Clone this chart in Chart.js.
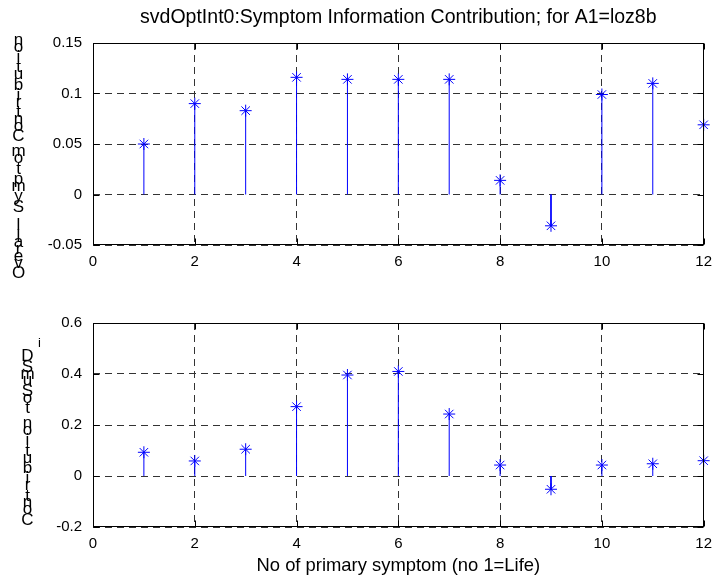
<!DOCTYPE html>
<html>
<head>
<meta charset="utf-8">
<title>svdOptInt0</title>
<script src="https://cdn.jsdelivr.net/npm/chart.js@4/dist/chart.umd.min.js"></script>
<style>
  html, body { margin: 0; padding: 0; background: #fff; }
  #wrap { position: relative; width: 720px; height: 579px; }
  #wrap canvas { position: absolute; left: 0; }
  #top-chart { top: 0; }
  #bottom-chart { top: 290px; }
</style>
</head>
<body>
<div id="wrap">
  <canvas id="top-chart" width="720" height="290"></canvas>
  <canvas id="bottom-chart" width="720" height="289"></canvas>
</div>
<script>
// values
const symptoms = [1, 2, 3, 4, 5, 6, 7, 8, 9, 10, 11, 12];
const overallContribution = [0.050, 0.090, 0.083, 0.116, 0.114, 0.114, 0.114, 0.014, -0.031, 0.099, 0.110, 0.069];
const sumSdContribution = [0.093, 0.059, 0.105, 0.272, 0.396, 0.410, 0.243, 0.043, -0.052, 0.043, 0.048, 0.060];

const xTicks = [0, 2, 4, 6, 8, 10, 12];
const yTicksTop = [-0.05, 0, 0.05, 0.1, 0.15];
const yTicksBottom = [-0.2, 0, 0.2, 0.4, 0.6];

const titleText = 'svdOptInt0:Symptom Information Contribution; for A1=loz8b';
const xLabelText = 'No of primary symptom (no 1=Life)';
const yLabelTop = 'Overall Symptom Contribution';
const yLabelBottom = 'Contribution toSumSD';

const FONT = '"Liberation Sans", Arial, Helvetica, sans-serif';
const BLUE = '#0000ff';

Chart.defaults.font.family = FONT;
Chart.defaults.color = '#000';

// ylabel is drawn one character per line, read bottom-up
const SHORT = 'acemnorsuvwxz';
function charStep(ch) {
  if (ch === ' ') return 8.3;
  return SHORT.includes(ch) ? 6.8 : 10.4;
}

const stackedLabel = {
  id: 'stackedLabel',
  afterDraw(chart, args, opts) {
    if (!opts.text) return;
    const ctx = chart.ctx;
    ctx.save();
    ctx.fillStyle = '#000';
    ctx.textAlign = 'center';
    ctx.textBaseline = 'alphabetic';
    if (opts.sup) {
      ctx.font = '13px ' + FONT;
      ctx.fillText(opts.sup, opts.x + 12, opts.top - 4);
    }
    ctx.font = '17px ' + FONT;
    let y = opts.top;
    opts.text.split('').reverse().forEach(ch => {
      y += charStep(ch);
      if (ch !== ' ') ctx.fillText(ch, opts.x, y);
    });
    ctx.restore();
  }
};

// title centred over the axes, not the whole canvas
const axesTitle = {
  id: 'axesTitle',
  afterDraw(chart, args, opts) {
    if (!opts.text) return;
    const { ctx, chartArea: a } = chart;
    ctx.save();
    ctx.fillStyle = '#000';
    ctx.font = '19.5px ' + FONT;
    ctx.textAlign = 'center';
    ctx.textBaseline = 'middle';
    ctx.fillText(opts.text, (a.left + a.right) / 2, opts.y);
    ctx.restore();
  }
};

// MATLAB style box with inward ticks
const axesBox = {
  id: 'axesBox',
  afterDraw(chart) {
    const { ctx, chartArea: a, scales: { x, y } } = chart;
    const L = Math.round(a.left) + 0.5, R = Math.round(a.right) - 0.5;
    const T = Math.round(a.top) + 0.5, B = Math.round(a.bottom) - 0.5;
    ctx.save();
    ctx.strokeStyle = '#000';
    ctx.lineWidth = 1;
    ctx.setLineDash([]);
    ctx.strokeRect(L, T, R - L, B - T);
    ctx.beginPath();
    x.ticks.forEach(t => {
      const px = Math.round(x.getPixelForValue(t.value)) + 0.5;
      ctx.moveTo(px, B); ctx.lineTo(px, B - 6);
      ctx.moveTo(px, T); ctx.lineTo(px, T + 6);
    });
    y.ticks.forEach(t => {
      const py = Math.round(y.getPixelForValue(t.value)) + 0.5;
      ctx.moveTo(L, py); ctx.lineTo(L + 6, py);
      ctx.moveTo(R, py); ctx.lineTo(R - 6, py);
    });
    ctx.stroke();
    ctx.restore();
  }
};

function stemPoints(values) {
  return symptoms.flatMap((s, i) => [{ x: s, y: 0 }, { x: s, y: values[i] }, { x: s, y: null }]);
}

function buildChart(canvasId, values, yTicks, cfg) {
  const ctx = document.getElementById(canvasId).getContext('2d');
  return new Chart(ctx, {
    type: 'scatter',
    data: {
      datasets: [
        {
          data: symptoms.map((s, i) => ({ x: s, y: values[i] })),
          pointStyle: 'star',
          pointRadius: 6,
          pointBorderWidth: 1,
          borderColor: BLUE,
          backgroundColor: BLUE,
          showLine: false,
          clip: false
        },
        {
          data: stemPoints(values),
          showLine: true,
          spanGaps: false,
          pointRadius: 0,
          borderColor: BLUE,
          borderWidth: 1
        }
      ]
    },
    options: {
      responsive: false,
      animation: false,
      events: [],
      devicePixelRatio: 1,
      layout: { padding: { left: 0, right: 9, top: cfg.padTop, bottom: 0 } },
      plugins: {
        legend: { display: false },
        tooltip: { enabled: false },
        title: { display: false },
        axesTitle: { text: cfg.title, y: 18 },
        stackedLabel: cfg.yLabel
      },
      scales: {
        x: {
          type: 'linear',
          min: 0,
          max: 12,
          afterBuildTicks: s => { s.ticks = xTicks.map(v => ({ value: v })); },
          afterFit: s => { s.height = cfg.xHeight; },
          ticks: { padding: 8, font: { size: 15 }, color: '#000', callback: v => String(v) },
          grid: { color: '#333', lineWidth: 1, drawTicks: false },
          border: { display: false, dash: [7, 5] },
          title: cfg.xTitle ? {
            display: true,
            text: cfg.xTitle,
            color: '#000',
            font: { size: 18.4 },
            padding: { top: 0, bottom: 1.7 }
          } : { display: false }
        },
        y: {
          type: 'linear',
          min: yTicks[0],
          max: yTicks[yTicks.length - 1],
          afterBuildTicks: s => { s.ticks = yTicks.map(v => ({ value: v })); },
          afterFit: s => { s.width = 93; },
          ticks: { padding: 11, font: { size: 15 }, color: '#000', callback: v => String(v) },
          grid: { color: '#333', lineWidth: 1, drawTicks: false },
          border: { display: false, dash: [7, 5] }
        }
      }
    },
    plugins: [stackedLabel, axesTitle, axesBox]
  });
}

buildChart('top-chart', overallContribution, yTicksTop, {
  padTop: 43,
  title: titleText,
  xHeight: 45,
  yLabel: { text: yLabelTop, x: 18.5, top: 38 }
});

buildChart('bottom-chart', sumSdContribution, yTicksBottom, {
  padTop: 33,
  xTitle: xLabelText,
  xHeight: 52,
  yLabel: { text: yLabelBottom, x: 27.5, top: 61, sup: 'i' }
});
</script>
</body>
</html>
